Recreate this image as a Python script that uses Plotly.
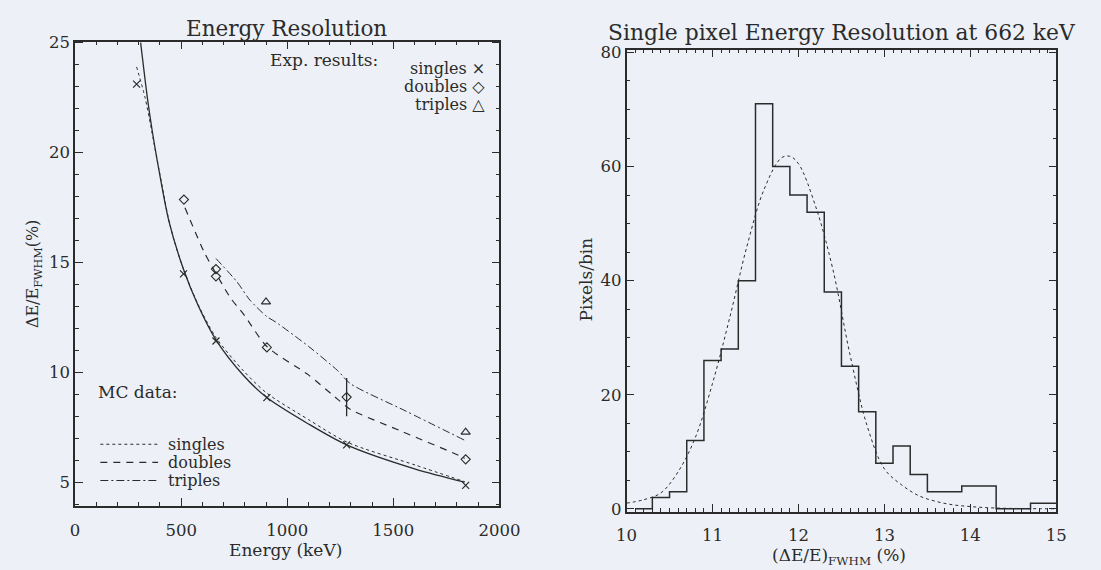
import plotly.graph_objects as go

# ---------------- Left panel: energy resolution vs energy ----------------
exp_singles_E = [290, 511, 664, 904, 1280, 1841]
exp_singles_R = [23.12, 14.49, 11.44, 8.87, 6.72, 4.88]

exp_doubles_E = [513, 664, 664, 904, 1280, 1841]
exp_doubles_R = [17.87, 14.71, 14.38, 11.15, 8.89, 6.06]
exp_doubles_err = [0, 0, 0, 0, 0.87, 0]

exp_triples_E = [900, 1841]
exp_triples_R = [13.22, 7.30]

fit_E = [309, 342, 366, 388, 442, 511, 580, 664, 794, 904, 1100, 1280, 1604, 1836]
fit_R = [25.0, 22.4, 20.85, 19.6, 16.9, 14.7, 13.05, 11.49, 9.87, 8.87, 7.67, 6.72, 5.62, 5.03]

mc_singles_E = [290, 330, 358, 400, 450, 511, 580, 664, 794, 904, 1100, 1280, 1604, 1836]
mc_singles_R = [23.9, 22.5, 21.15, 19.0, 16.6, 14.7, 13.1, 11.6, 10.08, 9.07, 7.87, 6.85, 5.8, 5.05]

mc_doubles_E = [518, 610, 687, 733, 794, 904, 1100, 1237, 1298, 1528, 1818, 1836]
mc_doubles_R = [17.5, 15.45, 14.13, 13.39, 12.66, 11.19, 9.9, 8.8, 8.33, 7.38, 6.2, 6.1]

mc_triples_E = [664, 763, 824, 904, 946, 1100, 1237, 1298, 1558, 1834]
mc_triples_R = [15.19, 14.13, 13.3, 12.55, 12.3, 11.2, 10.1, 9.5, 8.26, 6.94]

# ---------------- Right panel: single pixel histogram ----------------
bin_left_edges = [10.1, 10.3, 10.5, 10.7, 10.9, 11.1, 11.3, 11.5, 11.7, 11.9, 12.1,
                  12.3, 12.5, 12.7, 12.9, 13.1, 13.3, 13.5, 13.7, 13.9, 14.1, 14.3,
                  14.5, 14.7, 14.9]
bin_counts = [0, 2, 3, 12, 26, 28, 40, 71, 60, 55, 52, 38, 25, 17, 8, 11, 6, 3, 3,
              4, 4, 0, 0, 1, 1]
hist_end = 15.0

gauss_x = [10.0, 10.2, 10.4, 10.6, 10.8, 11.0, 11.2, 11.4, 11.6, 11.8, 11.9, 12.0,
           12.2, 12.4, 12.6, 12.8, 13.0, 13.2, 13.4, 13.6, 13.8, 14.0, 14.2, 14.4,
           14.6, 14.8, 15.0]
gauss_y = [1.0, 1.6, 2.8, 6.5, 12.5, 22.0, 33.5, 46.0, 56.0, 61.5, 61.8, 60.5, 53.0,
           42.0, 27.0, 14.5, 7.0, 4.2, 2.3, 1.3, 0.7, 0.4, 0.2, 0.1, 0.05, 0.02, 0.0]

INK = "#2b2b2b"
BG = "#edf1f7"
FONT = "DejaVu Serif"
W, H = 1101, 570

def px(x):
    return x / W

def py(y):
    return 1 - y / H

fig = go.Figure()

# Left panel traces
fig.add_trace(go.Scatter(x=fit_E, y=fit_R, mode="lines",
                         line=dict(color=INK, width=1.3, shape="spline", smoothing=0.8),
                         xaxis="x", yaxis="y", showlegend=False))
fig.add_trace(go.Scatter(x=mc_singles_E, y=mc_singles_R, mode="lines",
                         line=dict(color=INK, width=1, dash="dot", shape="spline", smoothing=0.8),
                         xaxis="x", yaxis="y", showlegend=False))
fig.add_trace(go.Scatter(x=mc_doubles_E, y=mc_doubles_R, mode="lines",
                         line=dict(color=INK, width=1.2, dash="7px,6px", shape="spline", smoothing=0.7),
                         xaxis="x", yaxis="y", showlegend=False))
fig.add_trace(go.Scatter(x=mc_triples_E, y=mc_triples_R, mode="lines",
                         line=dict(color=INK, width=1, dash="8px,3px,2px,3px", shape="spline", smoothing=0.7),
                         xaxis="x", yaxis="y", showlegend=False))
fig.add_trace(go.Scatter(x=exp_singles_E, y=exp_singles_R, mode="markers",
                         marker=dict(symbol="x-thin", size=7, line=dict(color=INK, width=1.2)),
                         xaxis="x", yaxis="y", showlegend=False))
fig.add_trace(go.Scatter(x=exp_doubles_E, y=exp_doubles_R, mode="markers",
                         marker=dict(symbol="diamond-open", size=7, color=INK, line=dict(width=1.1)),
                         error_y=dict(type="data", array=exp_doubles_err, color=INK, thickness=1.3, width=0),
                         xaxis="x", yaxis="y", showlegend=False))
fig.add_trace(go.Scatter(x=exp_triples_E, y=exp_triples_R, mode="markers",
                         marker=dict(symbol="triangle-up-open", size=8, color=INK, line=dict(width=1.1)),
                         xaxis="x", yaxis="y", showlegend=False))

# Right panel traces
fig.add_trace(go.Scatter(x=bin_left_edges + [hist_end], y=bin_counts + [bin_counts[-1]], mode="lines",
                         line=dict(color=INK, width=1.5, shape="hv"),
                         xaxis="x2", yaxis="y2", showlegend=False))
fig.add_trace(go.Scatter(x=gauss_x, y=gauss_y, mode="lines",
                         line=dict(color=INK, width=1, dash="dot", shape="spline"),
                         xaxis="x2", yaxis="y2", showlegend=False))

axis_common = dict(showgrid=False, zeroline=False, showline=True, linecolor=INK, linewidth=1.5,
                   mirror="allticks", ticks="inside", tickcolor=INK, tickwidth=1.2,
                   tickfont=dict(family=FONT, size=16.5, color=INK))

fig.update_layout(
    width=W, height=H,
    margin=dict(l=0, r=0, t=0, b=0),
    paper_bgcolor=BG, plot_bgcolor=BG,
    xaxis=dict(domain=[66 / W, 503 / W], range=[0, 2000], dtick=500, tick0=0, ticklen=8,
               minor=dict(dtick=100, ticklen=4, ticks="inside", tickcolor=INK, tickwidth=1.1),
               ticklabelstandoff=8, anchor="y", **axis_common),
    yaxis=dict(domain=[py(511.7), py(34.5)], range=[3.93, 25.05], dtick=5, tick0=0, ticklen=8,
               minor=dict(dtick=1, ticklen=4, ticks="inside", tickcolor=INK, tickwidth=1.1),
               anchor="x", **axis_common),
    xaxis2=dict(domain=[634 / W, 1076.6 / W], range=[10, 15], dtick=1, tick0=10, ticklen=8,
                minor=dict(dtick=0.1, ticklen=4, ticks="inside", tickcolor=INK, tickwidth=1.1),
                ticklabelstandoff=8, anchor="y2", **axis_common),
    yaxis2=dict(domain=[py(517.3), py(42.7)], range=[-0.5, 80.5], dtick=20, tick0=0, ticklen=8,
                minor=dict(dtick=5, ticklen=4, ticks="inside", tickcolor=INK, tickwidth=1.1),
                anchor="x2", **axis_common),
)

def txt(text, x, y, size=16, xanchor="center", yanchor="middle", angle=0):
    fig.add_annotation(text=text, x=x, y=y, xref="paper", yref="paper", showarrow=False,
                       xanchor=xanchor, yanchor=yanchor, textangle=angle,
                       font=dict(family=FONT, size=size, color=INK))

# Titles
txt("Energy Resolution", px(284), py(20.7), size=21.5)
txt("Single pixel Energy Resolution at 662 keV", px(1099), py(25), size=21.8, xanchor="right")
# Axis titles
txt("Energy (keV)", px(283), py(557), size=17)
txt("ΔE/E<sub>FWHM</sub>(%)", px(24), py(273), size=16, angle=-90)
txt("Pixels/bin", px(592), py(279), size=17, angle=-90)
txt("(ΔE/E)<sub>FWHM</sub> (%)", px(853), py(563), size=17)

# Experimental legend
txt("Exp. results:", px(322), py(53.3), size=17)
for label, ypix in [("singles ×", 62.4), ("doubles ◇", 81), ("triples △", 99.6)]:
    txt(label, px(490), py(ypix), size=16, xanchor="right")

# MC legend
txt("MC data:", px(87.5), py(394.3), size=17, xanchor="left")
for label, ypix, dash in [("singles", 448.1, "dot"), ("doubles", 466.7, "7px,6px"),
                          ("triples", 485.3, "8px,3px,2px,3px")]:
    fig.add_shape(type="line", xref="paper", yref="paper", x0=px(92), x1=px(151.5),
                  y0=py(ypix), y1=py(ypix), line=dict(color=INK, width=1.1, dash=dash))
    txt(label, px(160), py(ypix), size=16, xanchor="left")

fig.write_html("out.html")
